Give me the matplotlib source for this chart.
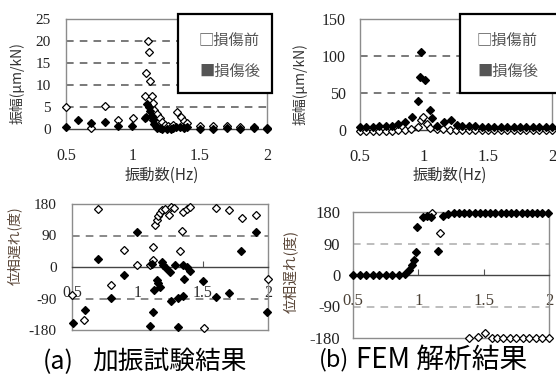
import matplotlib
matplotlib.use("Agg")
import matplotlib.pyplot as plt
from matplotlib import font_manager
from matplotlib.patches import Rectangle

W, H = 556, 378

# ---------------- data ----------------
# (a) top: experiment amplitude (um/kN)
amp_exp_before_x = [0.5, 0.69, 0.79, 0.89, 1.0, 1.09, 1.097, 1.114, 1.12, 1.13, 1.14, 1.15, 1.16, 1.18,
                    1.2, 1.22, 1.24, 1.26, 1.28, 1.3, 1.33, 1.355, 1.38, 1.4, 1.5, 1.6, 1.7, 1.8, 1.9, 2.0]
amp_exp_before_y = [4.9, 0.2, 5.3, 2.0, 2.4, 7.5, 12.7, 20.0, 17.6, 10.8, 7.5, 5.8, 4.4, 3.3,
                    2.4, 1.6, 1.0, 0.6, 0.4, 1.0, 3.8, 2.8, 1.9, 1.4, 0.7, 0.6, 0.6, 0.5, 0.5, 0.3]
amp_exp_after_x = [0.5, 0.59, 0.69, 0.79, 0.89, 0.99, 1.09, 1.1, 1.107, 1.12, 1.13, 1.14, 1.15, 1.16, 1.17,
                   1.18, 1.2, 1.22, 1.25, 1.28, 1.3, 1.32, 1.35, 1.38, 1.4, 1.5, 1.6, 1.7, 1.8, 1.9, 2.0]
amp_exp_after_y = [0.4, 2.0, 1.3, 1.5, 0.6, 0.6, 2.4, 2.7, 5.7, 5.0, 4.0, 3.0, 2.0, 1.2, 0.6,
                   0.2, 0.3, 0.0, 0.0, 0.1, 0.3, 0.4, 0.5, 0.2, 0.4, 0.1, 0.0, 0.3, 0.0, 0.2, 0.0]

# (b) top: FEM amplitude (um/kN)
amp_fem_before_x = [0.5, 0.55, 0.6, 0.65, 0.7, 0.75, 0.8, 0.85, 0.9, 0.95, 0.975, 0.99, 1.02, 1.05,
                    1.1, 1.15, 1.2, 1.25, 1.3, 1.35, 1.4, 1.45, 1.5, 1.55, 1.6, 1.65, 1.7, 1.75,
                    1.8, 1.85, 1.9, 1.95, 2.0]
amp_fem_before_y = [-1, -1, -1, -1, -1, -1, 0, 0, 1, 4, 13, 17, 8, 3,
                    1, 1, 0, 0, 0, 0, 0, 0, 0, 0, 0, 0, 0, 0,
                    0, 0, 0, 0, 0]
amp_fem_after_x = [0.5, 0.55, 0.6, 0.65, 0.7, 0.75, 0.8, 0.85, 0.91, 0.953, 0.966, 0.974, 1.006, 1.044,
                   1.06, 1.1, 1.16, 1.21, 1.26, 1.3, 1.35, 1.4, 1.45, 1.5, 1.55, 1.6, 1.65, 1.7,
                   1.75, 1.8, 1.85, 1.9, 1.95, 2.0]
amp_fem_after_y = [4, 4, 4, 5, 5, 6, 8, 11, 17, 39, 72, 106, 68, 27,
                   16, 6, 11, 14, 7, 6, 5, 5, 4, 4, 4, 4, 4, 4,
                   4, 4, 4, 4, 4, 4]

# (a) bottom: experiment phase lag (deg)
ph_exp_before_x = [0.5, 0.59, 0.7, 0.8, 0.9, 1.0, 1.1, 1.12, 1.12, 1.135, 1.148, 1.16, 1.173, 1.186,
                   1.21, 1.24, 1.26, 1.28, 1.33, 1.34, 1.35, 1.38, 1.4, 1.51, 1.6, 1.7, 1.8, 1.91, 2.0]
ph_exp_before_y = [-80, -152, 166, -50, 50, 5, 5, 20, 58, 120, 134, 145, 153, 163,
                   166, 150, 172, 170, 46, 104, 158, 165, 172, -175, 170, 163, 139, 150, -35]
ph_exp_after_x = [0.505, 0.6, 0.7, 0.8, 0.9, 1.0, 1.1, 1.12, 1.13, 1.15, 1.16, 1.17, 1.11, 1.19,
                  1.2, 1.22, 1.25, 1.26, 1.29, 1.31, 1.31, 1.35, 1.35, 1.36, 1.38, 1.4, 1.5, 1.6,
                  1.7, 1.79, 1.91, 1.99]
ph_exp_after_y = [-160, -123, 23, -89, -23, 100, -169, -128, -66, -37, -47, -56, 10, 15,
                  6, -4, -13, -97, 5, -170, -89, 5, -83, -35, 0, -10, -40, -85,
                  -73, 46, 100, -128]

# (b) bottom: FEM phase lag (deg)
ph_fem_before_x = [1.104, 1.163, 1.39, 1.456, 1.508, 1.56, 1.6, 1.65, 1.7, 1.75, 1.8, 1.85, 1.9, 1.95, 2.0]
ph_fem_before_y = [176, 121, -181, -176, -167, -180, -180, -180, -180, -180, -180, -180, -180, -180, -180]
ph_fem_after_x = [0.5, 0.55, 0.6, 0.65, 0.7, 0.75, 0.8, 0.85, 0.9, 0.93, 0.95, 0.965, 0.98, 0.992,
                  1.033, 1.07, 1.094, 1.153, 1.19, 1.23, 1.27, 1.31, 1.35, 1.39, 1.43, 1.47, 1.51,
                  1.55, 1.59, 1.63, 1.67, 1.71, 1.75, 1.79, 1.83, 1.87, 1.91, 1.95, 1.99]
ph_fem_after_y = [0, 0, 0, 0, 0, 0, 0, 0, 3, 14, 29, 43, 67, 138,
                  167, 170, 165, 69, 170, 174, 176, 176, 176, 177, 177, 177, 177,
                  177, 177, 177, 177, 177, 177, 177, 177, 177, 177, 177, 176]

x_ticks = [0.5, 1, 1.5, 2]
x_tick_labels = ["0.5", "1", "1.5", "2"]
amp_exp_ticks = [0, 5, 10, 15, 20, 25]
amp_fem_ticks = [0, 50, 100, 150]
phase_ticks = [-180, -90, 0, 90, 180]

legend_labels = ["□損傷前", "■損傷後"]
amp_ylabel = "振幅(μm/kN)"
phase_ylabel = "位相遅れ(度)"
freq_xlabel = "振動数(Hz)"
caption_tags = ["(a)", "(b)"]
caption_texts = ["加振試験結果", "FEM 解析結果"]

# ---------------- styling ----------------
serif_name = "DejaVu Serif"
for cand in ["Liberation Serif", "Times New Roman", "Nimbus Roman", "DejaVu Serif"]:
    try:
        font_manager.findfont(font_manager.FontProperties(family=cand), fallback_to_default=False)
        serif_name = cand
        break
    except Exception:
        pass
CJK = ["Noto Sans CJK JP", "DejaVu Sans"]
plt.rcParams["font.family"] = [serif_name]
plt.rcParams["axes.unicode_minus"] = False
FRAME = "#8c8c8c"

fig = plt.figure(figsize=(W / 100, H / 100), dpi=100)


def add_ax(x0, y0, x1, y1):
    return fig.add_axes([x0 / W, 1 - y1 / H, (x1 - x0) / W, (y1 - y0) / H])


def ftext(x, y, s, **kw):
    fig.text(x / W, 1 - y / H, s, **kw)


def style_common(ax, yticks, ylim, grid_color, xpad, ypad, xs=11.5, ys=11,
                 axis_at_zero=False, tick_len=0, xlabel_color="#222222"):
    ax.set_xlim(0.5, 2.0)
    ax.set_ylim(*ylim)
    ax.set_xticks(x_ticks)
    ax.set_yticks(yticks)
    ax.set_yticklabels([str(t) for t in yticks])
    ax.tick_params(axis="y", pad=ypad, length=0, colors="#222222", labelsize=ys)
    for t in yticks:
        if t not in (ylim[0], ylim[1], 0):
            ax.axhline(t, color=grid_color, lw=1.1, ls=(0, (5, 4)), zorder=1)
    for s in ax.spines.values():
        s.set_color(FRAME)
        s.set_linewidth(1.0)
    if axis_at_zero:
        # x axis drawn through zero, frame kept at the bottom
        ax.spines["bottom"].set_position(("data", 0))
        ax.spines["bottom"].set_color("#444444")
        ax.axhline(ylim[0], color=FRAME, lw=1.0, clip_on=False, zorder=2)
        ax.tick_params(axis="x", direction="in", length=tick_len, colors="#555555",
                       labelbottom=False)
        for xv, lab in zip(x_ticks, x_tick_labels):
            ax.annotate(lab, xy=(xv, 0), xytext=(0, -xpad), textcoords="offset points",
                        ha="center", va="top", fontsize=xs, color=xlabel_color,
                        annotation_clip=False, zorder=2)
    else:
        ax.spines["bottom"].set_color("#444444")
        ax.set_xticklabels(x_tick_labels)
        ax.tick_params(axis="x", pad=xpad, direction="in", length=tick_len, colors="#555555",
                       labelcolor=xlabel_color, labelsize=xs)


def plot_pair(ax, xb, yb, xa, ya, ms=4.4):
    ax.plot(xb, yb, ls="none", marker="D", ms=ms, mfc="white", mec="black", mew=0.9,
            clip_on=False, zorder=3)
    ax.plot(xa, ya, ls="none", marker="D", ms=ms, mfc="black", mec="black", mew=0.9,
            clip_on=False, zorder=4)


# ---- (a) top ----
ax1 = add_ax(66, 19, 267, 129)
style_common(ax1, amp_exp_ticks, (0, 25), "#555555", 14, 11)
plot_pair(ax1, amp_exp_before_x, amp_exp_before_y, amp_exp_after_x, amp_exp_after_y)

# ---- (b) top ----
ax2 = add_ax(360, 19, 552, 130)
style_common(ax2, amp_fem_ticks, (0, 150), "#555555", 14, 10, xs=12, ys=11.5)
plot_pair(ax2, amp_fem_before_x, amp_fem_before_y, amp_fem_after_x, amp_fem_after_y, ms=4.2)

# ---- (a) bottom ----
ax3 = add_ax(72, 204, 268, 330)
style_common(ax3, phase_ticks, (-180, 180), "#6a6a6a", 13, 11, xs=11.5, ys=11,
             axis_at_zero=True, tick_len=4, xlabel_color="#2b2b2b")
plot_pair(ax3, ph_exp_before_x, ph_exp_before_y, ph_exp_after_x, ph_exp_after_y)

# ---- (b) bottom ----
ax4 = add_ax(353, 212, 549, 338)
style_common(ax4, phase_ticks, (-180, 180), "#ababab", 13, 9, xs=12, ys=12,
             axis_at_zero=True, tick_len=4, xlabel_color="#4a4035")
plot_pair(ax4, ph_fem_before_x, ph_fem_before_y, ph_fem_after_x, ph_fem_after_y, ms=4.2)

# ---- legends (boxes) ----
for (x0, x1) in [(178, 272), (460, 560)]:
    fig.patches.append(Rectangle((x0 / W, 1 - 93 / H), (x1 - x0) / W, 79 / H,
                                 transform=fig.transFigure, facecolor="white",
                                 edgecolor="black", lw=1.6, zorder=10))
for x0 in (199, 477):
    ftext(x0, 40, legend_labels[0], family=CJK, fontsize=11, color="#555555",
          va="center", ha="left", zorder=11)
    ftext(x0, 71, legend_labels[1], family=CJK, fontsize=11, color="#555555",
          va="center", ha="left", zorder=11)

# ---- axis labels ----
ftext(162, 175, freq_xlabel, family=CJK, fontsize=11, color="#333333", ha="center", va="center")
ftext(450, 175, freq_xlabel, family=CJK, fontsize=11, color="#333333", ha="center", va="center")
ftext(17, 83, amp_ylabel, family=CJK, fontsize=10, color="#333333", ha="center", va="center",
      rotation=90)
ftext(300, 84, amp_ylabel, family=CJK, fontsize=10, color="#333333", ha="center", va="center",
      rotation=90)
ftext(14, 246, phase_ylabel, family=CJK, fontsize=10, color="#5a4638", ha="center", va="center",
      rotation=90)
ftext(291, 271, phase_ylabel, family=CJK, fontsize=10.5, color="#5a4638", ha="center", va="center",
      rotation=90)

# ---- captions ----
ftext(43, 362, caption_tags[0], family=CJK, fontsize=18, color="black", ha="left", va="center")
ftext(92, 362, caption_texts[0], family=CJK, fontsize=18.5, color="black", ha="left", va="center")
ftext(319, 360, caption_tags[1], family=CJK, fontsize=17, color="black", ha="left", va="center")
ftext(356, 360, caption_texts[1], family=CJK, fontsize=20, color="black", ha="left", va="center")

fig.savefig("out.png", dpi=100)
